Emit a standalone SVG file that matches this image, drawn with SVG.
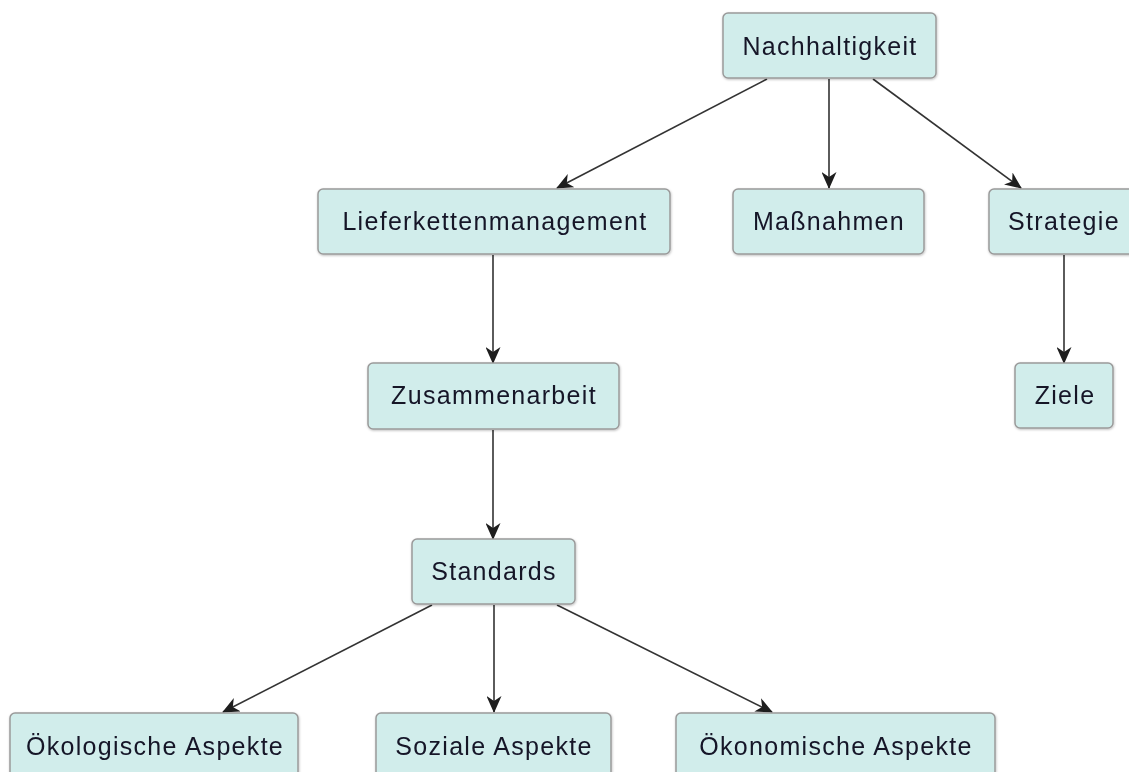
<svg xmlns="http://www.w3.org/2000/svg" width="1129" height="772" viewBox="0 0 1129 772">
<style>
.box{fill:#d1edeb;stroke:#9a9a9a;stroke-width:1.5}
.lbl{font-family:"Liberation Sans",Arial,sans-serif;font-size:25px;letter-spacing:1.3px;fill:#141428;text-anchor:middle}
.edge{stroke:#333;stroke-width:1.6;fill:none;marker-end:url(#arr)}
</style>
<defs>
<marker id="arr" markerUnits="userSpaceOnUse" markerWidth="17" markerHeight="15" viewBox="0 0 17 15" refX="16" refY="7.5" orient="auto">
<path d="M0,0 L17,7.5 L0,15 L5,7.5 Z" fill="#1e1e1e"/>
</marker>
<filter id="sh" x="-10%" y="-10%" width="120%" height="130%">
<feDropShadow dx="0.5" dy="1" stdDeviation="1" flood-color="#000" flood-opacity="0.25"/>
</filter>
</defs>
<rect width="1129" height="772" fill="#fff"/>
<g id="connectors">
<line class="edge" x1="767" y1="79" x2="557" y2="188"/>
<line class="edge" x1="829" y1="79" x2="829" y2="188"/>
<line class="edge" x1="873" y1="79" x2="1021" y2="188"/>
<line class="edge" x1="493" y1="255" x2="493" y2="363"/>
<line class="edge" x1="1064" y1="255" x2="1064" y2="363"/>
<line class="edge" x1="493" y1="430" x2="493" y2="539"/>
<line class="edge" x1="432" y1="605" x2="223" y2="712"/>
<line class="edge" x1="494" y1="605" x2="494" y2="712"/>
<line class="edge" x1="557" y1="605" x2="772" y2="712"/>
</g>
<g id="n-nachhaltigkeit" filter="url(#sh)"><rect class="box" x="723" y="13" width="213" height="65" rx="5"/><text class="lbl" x="830" y="55">Nachhaltigkeit</text></g>
<g id="n-lieferketten" filter="url(#sh)"><rect class="box" x="318" y="189" width="352" height="65" rx="5"/><text class="lbl" x="495" y="230">Lieferkettenmanagement</text></g>
<g id="n-massnahmen" filter="url(#sh)"><rect class="box" x="733" y="189" width="191" height="65" rx="5"/><text class="lbl" x="829" y="230">Maßnahmen</text></g>
<g id="n-strategie" filter="url(#sh)"><rect class="box" x="989" y="189" width="150" height="65" rx="5"/><text class="lbl" x="1064" y="230">Strategie</text></g>
<g id="n-ziele" filter="url(#sh)"><rect class="box" x="1015" y="363" width="98" height="65" rx="5"/><text class="lbl" x="1065" y="404">Ziele</text></g>
<g id="n-zusammenarbeit" filter="url(#sh)"><rect class="box" x="368" y="363" width="251" height="66" rx="5"/><text class="lbl" x="494" y="404">Zusammenarbeit</text></g>
<g id="n-standards" filter="url(#sh)"><rect class="box" x="412" y="539" width="163" height="65" rx="5"/><text class="lbl" x="494" y="580">Standards</text></g>
<g id="n-oekologisch" filter="url(#sh)"><rect class="box" x="10" y="713" width="288" height="66" rx="5"/><text class="lbl" x="155" y="755">Ökologische Aspekte</text></g>
<g id="n-sozial" filter="url(#sh)"><rect class="box" x="376" y="713" width="235" height="66" rx="5"/><text class="lbl" x="494" y="755">Soziale Aspekte</text></g>
<g id="n-oekonomisch" filter="url(#sh)"><rect class="box" x="676" y="713" width="319" height="66" rx="5"/><text class="lbl" x="836" y="755">Ökonomische Aspekte</text></g>
</svg>
